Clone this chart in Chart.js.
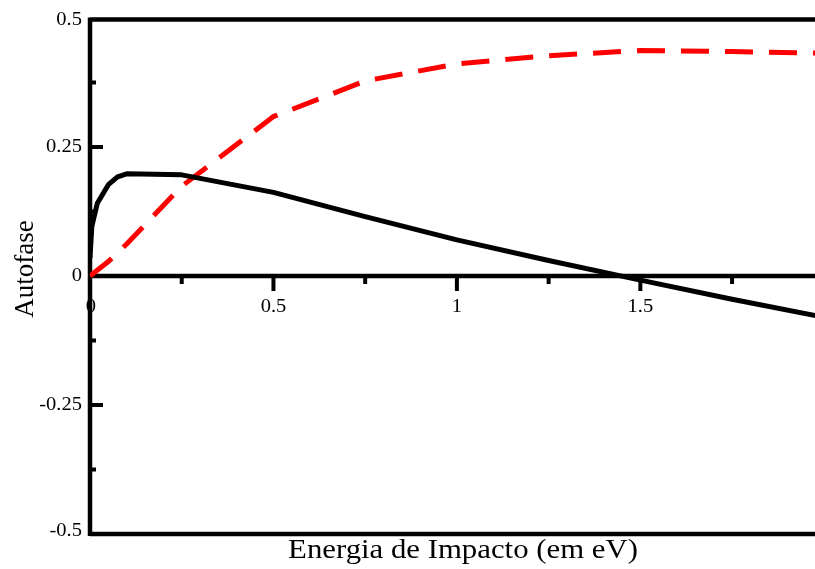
<!DOCTYPE html>
<html>
<head>
<meta charset="utf-8">
<script src="https://cdn.jsdelivr.net/npm/chart.js@4/dist/chart.umd.min.js"></script>
<style>
  html, body { margin: 0; padding: 0; background: #ffffff; }
  #wrap { width: 815px; height: 569px; }
</style>
</head>
<body>
<div id="wrap"><canvas id="c" width="815" height="569"></canvas></div>
<script>
// Autofase versus impact energy (eV): two eigenphase curves
const energySolid = [0, 0.005, 0.02, 0.05, 0.075, 0.1, 0.25, 0.5, 0.75, 1.0, 1.25, 1.5, 1.75, 2.0];
const phaseSolid  = [0.035, 0.096, 0.141, 0.177, 0.192, 0.198, 0.196, 0.162, 0.115, 0.070, 0.030, -0.008, -0.045, -0.080];

const energyDashed = [0, 0.05, 0.1, 0.25, 0.5, 0.75, 1.0, 1.25, 1.5, 1.75, 2.0];
const phaseDashed  = [0, 0.028, 0.062, 0.174, 0.309, 0.378, 0.411, 0.427, 0.437, 0.435, 0.432];

const xTickValues = [0, 0.5, 1, 1.5];
const xTickLabels = ['0', '0.5', '1', '1.5'];
const xMinorTicks = [0.25, 0.75, 1.25, 1.75];

const yTickValues = [0.5, 0.25, 0, -0.25, -0.5];
const yTickLabels = ['0.5', '0.25', '0', '-0.25', '-0.5'];
const yMinorTicks = [0.375, 0.125, -0.125, -0.375];

const xTitle = 'Energia de Impacto (em eV)';
const yTitle = 'Autofase';

const toPoints = (xs, ys) => xs.map((x, i) => ({ x: x, y: ys[i] }));

const FONT = '"Liberation Serif", "Times New Roman", serif';

// Text drawn slightly wider than the font's natural proportions
function wideText(ctx, text, x, y, sx) {
  ctx.save();
  ctx.translate(x, y);
  ctx.scale(sx, 1);
  ctx.fillText(text, 0, 0);
  ctx.restore();
}

// Frame, zero axis, inward ticks and all labels
const framePlugin = {
  id: 'frame',
  beforeDatasetsDraw(chart) {
    const { ctx, chartArea: a, scales: { x, y } } = chart;
    ctx.save();
    ctx.strokeStyle = '#000';
    ctx.lineCap = 'butt';
    ctx.lineWidth = 4.5;

    const y0 = y.getPixelForValue(0);
    ctx.beginPath();
    ctx.moveTo(a.left, a.top + 1.5); ctx.lineTo(a.right, a.top + 1.5);
    ctx.moveTo(a.left, a.bottom); ctx.lineTo(a.right, a.bottom);
    ctx.moveTo(a.left, a.top - 0.5); ctx.lineTo(a.left, a.bottom + 2);
    ctx.moveTo(a.left, y0); ctx.lineTo(a.right, y0);
    ctx.stroke();

    // ticks on the zero line, pointing down
    ctx.lineWidth = 4;
    ctx.beginPath();
    xTickValues.forEach(v => {
      if (v === 0) return;
      const px = x.getPixelForValue(v);
      ctx.moveTo(px, y0); ctx.lineTo(px, y0 + 15);
    });
    xMinorTicks.forEach(v => {
      const px = x.getPixelForValue(v);
      ctx.moveTo(px, y0); ctx.lineTo(px, y0 + 8);
    });
    // ticks on the left axis, pointing in
    yTickValues.forEach(v => {
      if (Math.abs(v) === 0.5 || v === 0) return;
      const py = y.getPixelForValue(v);
      ctx.moveTo(a.left, py); ctx.lineTo(a.left + 13, py);
    });
    yMinorTicks.forEach(v => {
      const py = y.getPixelForValue(v);
      ctx.moveTo(a.left, py); ctx.lineTo(a.left + 6, py);
    });
    ctx.stroke();

    // tick labels
    ctx.fillStyle = '#000';
    ctx.font = '19px ' + FONT;
    ctx.textBaseline = 'middle';
    ctx.textAlign = 'right';
    yTickValues.forEach((v, i) => {
      const py = y.getPixelForValue(v);
      wideText(ctx, yTickLabels[i], a.left - 8, py + (v === 0.5 ? 2 : v === -0.5 ? -3 : 0), 1.08);
    });
    ctx.textAlign = 'center';
    xTickValues.forEach((v, i) => {
      const px = x.getPixelForValue(v);
      wideText(ctx, xTickLabels[i], px + (v === 0 ? 1 : 0), y0 + 31, 1.08);
    });

    // axis titles
    ctx.font = '27px ' + FONT;
    ctx.textBaseline = 'alphabetic';
    wideText(ctx, xTitle, 463, 558, 1.14);

    ctx.save();
    ctx.translate(33, 269);
    ctx.rotate(-Math.PI / 2);
    ctx.font = '27px ' + FONT;
    ctx.textAlign = 'center';
    ctx.fillText(yTitle, 0, 0);
    ctx.restore();

    ctx.restore();
  }
};

new Chart(document.getElementById('c'), {
  type: 'line',
  data: {
    datasets: [
      {
        label: 'solid',
        data: toPoints(energySolid, phaseSolid),
        borderColor: '#000000',
        borderWidth: 5,
        borderJoinStyle: 'round',
        borderCapStyle: 'butt',
        pointRadius: 0,
        tension: 0,
        fill: false
      },
      {
        label: 'dashed',
        data: toPoints(energyDashed, phaseDashed),
        borderColor: '#ff0000',
        borderWidth: 5,
        borderDash: [28, 16],
        borderJoinStyle: 'miter',
        borderCapStyle: 'butt',
        pointRadius: 0,
        tension: 0,
        fill: false
      }
    ]
  },
  options: {
    responsive: false,
    animation: false,
    devicePixelRatio: 1,
    layout: { padding: { left: 90, top: 18, right: 0, bottom: 35 } },
    scales: {
      x: { type: 'linear', min: 0, max: 1.976, display: false },
      y: { type: 'linear', min: -0.5, max: 0.5, display: false }
    },
    plugins: {
      legend: { display: false },
      tooltip: { enabled: false }
    }
  },
  plugins: [framePlugin]
});
</script>
</body>
</html>
